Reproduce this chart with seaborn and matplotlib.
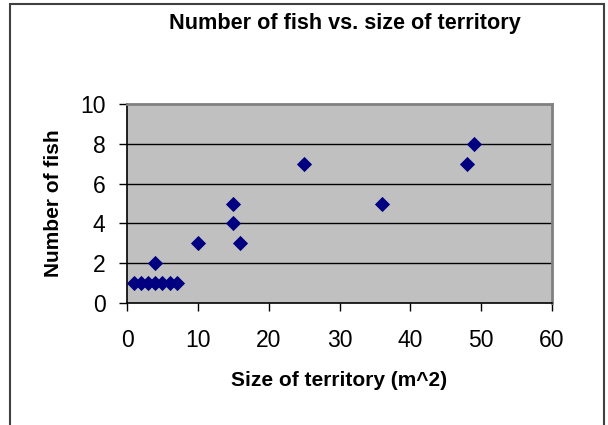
import pandas as pd
import matplotlib
matplotlib.use('Agg')
import matplotlib.pyplot as plt
import seaborn as sns
from matplotlib.patches import Rectangle

# data
territory = [1, 2, 3, 4, 5, 6, 7, 4, 10, 15, 15, 16, 25, 36, 48, 49]
fish = [1, 1, 1, 1, 1, 1, 1, 2, 3, 5, 4, 3, 7, 5, 7, 8]
x_ticks = [0, 10, 20, 30, 40, 50, 60]
y_ticks = [0, 2, 4, 6, 8, 10]

df = pd.DataFrame({'territory': territory, 'fish': fish})

sns.set_style('white')
plt.rcParams['font.family'] = ['Liberation Sans', 'DejaVu Sans']
plt.rcParams['text.color'] = 'black'
plt.rcParams['axes.labelcolor'] = 'black'

fig = plt.figure(figsize=(6.08, 4.25), dpi=100)
fig.subplots_adjust(left=127 / 608, right=552 / 608, bottom=1 - 303 / 425, top=1 - 104 / 425)
ax = fig.add_subplot(111)
ax.set_facecolor('#C0C0C0')

# horizontal gridlines like Excel
for v in y_ticks[1:-1]:
    ax.axhline(v, color='black', linewidth=1, zorder=1)

sns.scatterplot(data=df, x='territory', y='fish', marker='D', color='#000080',
                s=60, linewidth=0, ax=ax, zorder=3)

ax.set_xlim(0, 60)
ax.set_ylim(0, 10)
ax.set_xticks(x_ticks)
ax.set_yticks(y_ticks)
ax.tick_params(axis='both', direction='out', length=6, width=1, color='black',
               labelsize=16.5, labelcolor='black')
ax.tick_params(axis='x', pad=12.5, bottom=True)
ax.tick_params(axis='y', pad=9.4, left=True)

for side in ['left', 'bottom']:
    ax.spines[side].set_color('black')
    ax.spines[side].set_linewidth(1.2)
for side in ['top', 'right']:
    ax.spines[side].set_color('#808080')
    ax.spines[side].set_linewidth(2)

ax.set_xlabel('Size of territory (m^2)', fontsize=15, fontweight='bold', color='black')
ax.set_ylabel('Number of fish', fontsize=15, fontweight='bold', color='black')
ax.xaxis.set_label_coords(0.5, -(381 - 303) / 199)
ax.xaxis.label.set_va('center')
ax.yaxis.set_label_coords((54 - 127) / 425, 0.5)
ax.yaxis.label.set_va('center')

fig.text(345 / 608, 1 - 23 / 425, 'Number of fish vs. size of territory',
         ha='center', va='center', fontsize=15.6, fontweight='bold', color='black')

# outer chart border
fig.patches.append(Rectangle((10 / 608, -0.1), 594 / 608, 1.1 - 4 / 425,
                             transform=fig.transFigure, fill=False,
                             edgecolor='#404040', linewidth=1.5))

fig.savefig('out.png', dpi=100)
